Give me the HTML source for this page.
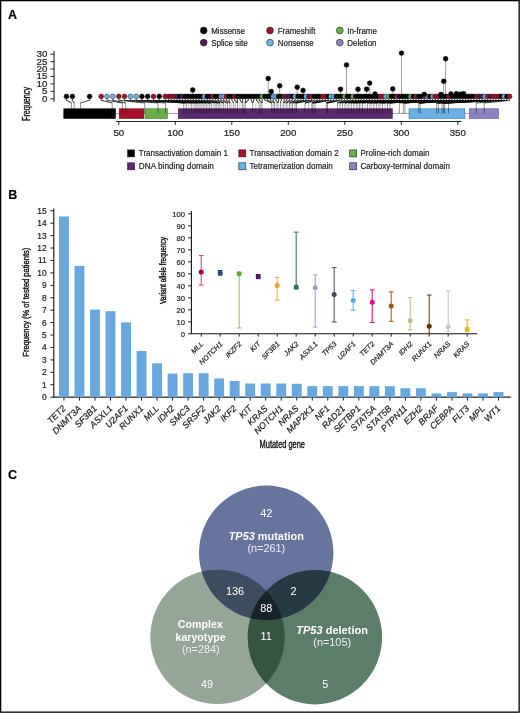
<!DOCTYPE html>
<html><head><meta charset="utf-8"><style>
html,body{margin:0;padding:0;background:#fff;}
svg{display:block;font-family:"Liberation Sans", sans-serif;will-change:transform;}
text{stroke:#222;stroke-width:0.2px;}
text.w{stroke:none;}
text.t{stroke:#111;stroke-width:0.38px;}
</style></head><body>
<svg width="520" height="713" viewBox="0 0 520 713">
<rect width="520" height="713" fill="#fff"/>
<text x="8" y="18.8" font-size="12.5" font-weight="bold">A</text>
<circle cx="203.7" cy="30.5" r="3.4" fill="#000000" stroke="#222" stroke-width="0.6"/>
<text x="211.2" y="33.5" font-size="8.8" fill="#222" textLength="33.79" lengthAdjust="spacingAndGlyphs">Missense</text>
<circle cx="203.7" cy="42.6" r="3.4" fill="#4b1d5e" stroke="#222" stroke-width="0.6"/>
<text x="211.2" y="45.6" font-size="8.8" fill="#222" textLength="36.46" lengthAdjust="spacingAndGlyphs">Splice site</text>
<circle cx="270.0" cy="30.5" r="3.4" fill="#a3102e" stroke="#222" stroke-width="0.6"/>
<text x="277.7" y="33.5" font-size="8.8" fill="#222" textLength="37.78" lengthAdjust="spacingAndGlyphs">Frameshift</text>
<circle cx="270.0" cy="42.6" r="3.4" fill="#6db3e6" stroke="#222" stroke-width="0.6"/>
<text x="277.7" y="45.6" font-size="8.8" fill="#222" textLength="36.02" lengthAdjust="spacingAndGlyphs">Nonsense</text>
<circle cx="339.8" cy="30.5" r="3.4" fill="#68b04a" stroke="#222" stroke-width="0.6"/>
<text x="347.2" y="33.5" font-size="8.8" fill="#222" textLength="29.78" lengthAdjust="spacingAndGlyphs">In-frame</text>
<circle cx="339.8" cy="42.6" r="3.4" fill="#8b86c6" stroke="#222" stroke-width="0.6"/>
<text x="347.2" y="45.6" font-size="8.8" fill="#222" textLength="29.35" lengthAdjust="spacingAndGlyphs">Deletion</text>
<line x1="54.0" y1="51" x2="54.0" y2="101.8" stroke="#333" stroke-width="1.2"/>
<line x1="50.3" y1="54.2" x2="54.0" y2="54.2" stroke="#333" stroke-width="1"/>
<text x="47.3" y="57.2" font-size="8.4" text-anchor="end" fill="#222" textLength="10.8" lengthAdjust="spacingAndGlyphs">30</text>
<line x1="50.3" y1="61.63" x2="54.0" y2="61.63" stroke="#333" stroke-width="1"/>
<text x="47.3" y="64.63" font-size="8.4" text-anchor="end" fill="#222" textLength="10.8" lengthAdjust="spacingAndGlyphs">25</text>
<line x1="50.3" y1="69.06" x2="54.0" y2="69.06" stroke="#333" stroke-width="1"/>
<text x="47.3" y="72.06" font-size="8.4" text-anchor="end" fill="#222" textLength="10.8" lengthAdjust="spacingAndGlyphs">20</text>
<line x1="50.3" y1="76.49" x2="54.0" y2="76.49" stroke="#333" stroke-width="1"/>
<text x="47.3" y="79.49" font-size="8.4" text-anchor="end" fill="#222" textLength="10.8" lengthAdjust="spacingAndGlyphs">15</text>
<line x1="50.3" y1="83.92" x2="54.0" y2="83.92" stroke="#333" stroke-width="1"/>
<text x="47.3" y="86.92" font-size="8.4" text-anchor="end" fill="#222" textLength="10.8" lengthAdjust="spacingAndGlyphs">10</text>
<line x1="50.3" y1="91.35" x2="54.0" y2="91.35" stroke="#333" stroke-width="1"/>
<text x="47.3" y="94.35" font-size="8.4" text-anchor="end" fill="#222" textLength="5.4" lengthAdjust="spacingAndGlyphs">5</text>
<line x1="50.3" y1="98.78" x2="54.0" y2="98.78" stroke="#333" stroke-width="1"/>
<text x="47.3" y="101.78" font-size="8.4" text-anchor="end" fill="#222" textLength="5.4" lengthAdjust="spacingAndGlyphs">0</text>
<text transform="translate(29.9,104) rotate(-90)" font-size="10.2" text-anchor="middle" fill="#111" class="t" textLength="34" lengthAdjust="spacingAndGlyphs">Frequency</text>
<line x1="63.5" y1="113.4" x2="498.8" y2="113.4" stroke="#777" stroke-width="0.7"/>
<rect x="63.8" y="108.8" width="51.6" height="9.7" fill="#000000" stroke="#000" stroke-width="0.6"/>
<rect x="119.2" y="108.8" width="24.7" height="9.7" fill="#a8102e" stroke="#6a0a1c" stroke-width="0.6"/>
<rect x="145.1" y="108.8" width="22.3" height="9.7" fill="#6ab04a" stroke="#3f7a2a" stroke-width="0.6"/>
<rect x="178.3" y="108.8" width="214" height="9.7" fill="#5b2a6e" stroke="#3a1448" stroke-width="0.6"/>
<rect x="409" y="108.8" width="55.8" height="9.7" fill="#6ab0e4" stroke="#3a78a8" stroke-width="0.6"/>
<rect x="469.5" y="108.8" width="29" height="9.7" fill="#8b82c0" stroke="#5a5290" stroke-width="0.6"/>
<line x1="116" y1="121.5" x2="461.5" y2="121.5" stroke="#222" stroke-width="1"/>
<line x1="118.8" y1="121.5" x2="118.8" y2="124.8" stroke="#222" stroke-width="1"/>
<text x="118.8" y="136" font-size="8.4" text-anchor="middle" fill="#222" textLength="10.8" lengthAdjust="spacingAndGlyphs">50</text>
<line x1="175.3" y1="121.5" x2="175.3" y2="124.8" stroke="#222" stroke-width="1"/>
<text x="175.3" y="136" font-size="8.4" text-anchor="middle" fill="#222" textLength="16.2" lengthAdjust="spacingAndGlyphs">100</text>
<line x1="231.8" y1="121.5" x2="231.8" y2="124.8" stroke="#222" stroke-width="1"/>
<text x="231.8" y="136" font-size="8.4" text-anchor="middle" fill="#222" textLength="16.2" lengthAdjust="spacingAndGlyphs">150</text>
<line x1="288.3" y1="121.5" x2="288.3" y2="124.8" stroke="#222" stroke-width="1"/>
<text x="288.3" y="136" font-size="8.4" text-anchor="middle" fill="#222" textLength="16.2" lengthAdjust="spacingAndGlyphs">200</text>
<line x1="344.8" y1="121.5" x2="344.8" y2="124.8" stroke="#222" stroke-width="1"/>
<text x="344.8" y="136" font-size="8.4" text-anchor="middle" fill="#222" textLength="16.2" lengthAdjust="spacingAndGlyphs">250</text>
<line x1="401.3" y1="121.5" x2="401.3" y2="124.8" stroke="#222" stroke-width="1"/>
<text x="401.3" y="136" font-size="8.4" text-anchor="middle" fill="#222" textLength="16.2" lengthAdjust="spacingAndGlyphs">300</text>
<line x1="457.8" y1="121.5" x2="457.8" y2="124.8" stroke="#222" stroke-width="1"/>
<text x="457.8" y="136" font-size="8.4" text-anchor="middle" fill="#222" textLength="16.2" lengthAdjust="spacingAndGlyphs">350</text>
<rect x="127.6" y="149.9" width="7" height="7" fill="#000" stroke="#222" stroke-width="0.6"/>
<text x="138.8" y="156.4" font-size="8.8" fill="#222" textLength="89.08" lengthAdjust="spacingAndGlyphs">Transactivation domain 1</text>
<rect x="238.8" y="149.9" width="7" height="7" fill="#a8102e" stroke="#222" stroke-width="0.6"/>
<text x="249.6" y="156.4" font-size="8.8" fill="#222" textLength="89.08" lengthAdjust="spacingAndGlyphs">Transactivation domain 2</text>
<rect x="349.7" y="149.9" width="7" height="7" fill="#6ab04a" stroke="#222" stroke-width="0.6"/>
<text x="360.5" y="156.4" font-size="8.8" fill="#222" textLength="68.91" lengthAdjust="spacingAndGlyphs">Proline-rich domain</text>
<rect x="127.6" y="162.8" width="7" height="7" fill="#5b2a6e" stroke="#222" stroke-width="0.6"/>
<text x="138.8" y="169.3" font-size="8.8" fill="#222" textLength="75" lengthAdjust="spacingAndGlyphs">DNA binding domain</text>
<rect x="238.8" y="162.8" width="7" height="7" fill="#6ab0e4" stroke="#222" stroke-width="0.6"/>
<text x="249.6" y="169.3" font-size="8.8" fill="#222" textLength="83.14" lengthAdjust="spacingAndGlyphs">Tetramerization domain</text>
<rect x="349.7" y="162.8" width="7" height="7" fill="#8b82c0" stroke="#222" stroke-width="0.6"/>
<text x="360.5" y="169.3" font-size="8.8" fill="#222" textLength="89.36" lengthAdjust="spacingAndGlyphs">Carboxy-terminal domain</text>
<path d="M66.4 98.60000000000001V100.2L71.5 103.0" fill="none" stroke="#000" stroke-opacity="0.7" stroke-width="1.1"/>
<path d="M72.4 98.60000000000001V100.2L74.2 103.0" fill="none" stroke="#000" stroke-opacity="0.7" stroke-width="1.1"/>
<path d="M89.6 98.60000000000001V100.2L80.5 103.0" fill="none" stroke="#000" stroke-opacity="0.7" stroke-width="1.1"/>
<path d="M101.2 98.60000000000001V100.2L112.2 103.0" fill="none" stroke="#000" stroke-opacity="0.7" stroke-width="1.1"/>
<path d="M107 98.60000000000001V100.2L122.4 103.0" fill="none" stroke="#000" stroke-opacity="0.7" stroke-width="1.1"/>
<path d="M112.8 98.60000000000001V100.2L125.8 103.0" fill="none" stroke="#000" stroke-opacity="0.7" stroke-width="1.1"/>
<path d="M118.8 98.60000000000001V100.2L144.7 103.0" fill="none" stroke="#000" stroke-opacity="0.7" stroke-width="1.1"/>
<path d="M124.5 98.60000000000001V100.2L158 103.0" fill="none" stroke="#000" stroke-opacity="0.7" stroke-width="1.1"/>
<path d="M130.4 98.60000000000001V100.2L165.5 103.0" fill="none" stroke="#000" stroke-opacity="0.7" stroke-width="1.1"/>
<path d="M136.2 98.60000000000001V100.2L183.75 103.0" fill="none" stroke="#000" stroke-opacity="0.7" stroke-width="1.1"/>
<path d="M141.9 98.60000000000001V100.2L186.25 103.0" fill="none" stroke="#000" stroke-opacity="0.7" stroke-width="1.1"/>
<path d="M147.6 98.60000000000001V100.2L186.25 103.0" fill="none" stroke="#000" stroke-opacity="0.7" stroke-width="1.1"/>
<path d="M153.5 98.60000000000001V100.2L191.25 103.0" fill="none" stroke="#000" stroke-opacity="0.7" stroke-width="1.1"/>
<path d="M159.3 98.60000000000001V100.2L191.25 103.0" fill="none" stroke="#000" stroke-opacity="0.7" stroke-width="1.1"/>
<path d="M165.2 98.60000000000001V100.2L195 103.0" fill="none" stroke="#000" stroke-opacity="0.7" stroke-width="1.1"/>
<path d="M168.6 98.60000000000001V100.2L195 103.0" fill="none" stroke="#000" stroke-opacity="0.7" stroke-width="1.1"/>
<path d="M171.35 98.60000000000001V100.2L198.1 103.0" fill="none" stroke="#000" stroke-opacity="0.7" stroke-width="1.1"/>
<path d="M174.1 98.60000000000001V100.2L198.1 103.0" fill="none" stroke="#000" stroke-opacity="0.7" stroke-width="1.1"/>
<path d="M176.85 98.60000000000001V100.2L200 103.0" fill="none" stroke="#000" stroke-opacity="0.7" stroke-width="1.1"/>
<path d="M179.6 98.60000000000001V100.2L203.1 103.0" fill="none" stroke="#000" stroke-opacity="0.7" stroke-width="1.1"/>
<path d="M182.35 98.60000000000001V100.2L203.1 103.0" fill="none" stroke="#000" stroke-opacity="0.7" stroke-width="1.1"/>
<path d="M185.1 98.60000000000001V100.2L206.25 103.0" fill="none" stroke="#000" stroke-opacity="0.7" stroke-width="1.1"/>
<path d="M187.85 98.60000000000001V100.2L206.25 103.0" fill="none" stroke="#000" stroke-opacity="0.7" stroke-width="1.1"/>
<path d="M190.6 98.60000000000001V100.2L209.4 103.0" fill="none" stroke="#000" stroke-opacity="0.7" stroke-width="1.1"/>
<path d="M193.35 98.60000000000001V100.2L209.4 103.0" fill="none" stroke="#000" stroke-opacity="0.7" stroke-width="1.1"/>
<path d="M196.1 98.60000000000001V100.2L211.25 103.0" fill="none" stroke="#000" stroke-opacity="0.7" stroke-width="1.1"/>
<path d="M198.85 98.60000000000001V100.2L211.25 103.0" fill="none" stroke="#000" stroke-opacity="0.7" stroke-width="1.1"/>
<path d="M201.6 98.60000000000001V100.2L215 103.0" fill="none" stroke="#000" stroke-opacity="0.7" stroke-width="1.1"/>
<path d="M204.35 98.60000000000001V100.2L218.1 103.0" fill="none" stroke="#000" stroke-opacity="0.7" stroke-width="1.1"/>
<path d="M207.1 98.60000000000001V100.2L218.1 103.0" fill="none" stroke="#000" stroke-opacity="0.7" stroke-width="1.1"/>
<path d="M209.85 98.60000000000001V100.2L220 103.0" fill="none" stroke="#000" stroke-opacity="0.7" stroke-width="1.1"/>
<path d="M212.6 98.60000000000001V100.2L220 103.0" fill="none" stroke="#000" stroke-opacity="0.7" stroke-width="1.1"/>
<path d="M215.35 98.60000000000001V100.2L223.75 103.0" fill="none" stroke="#000" stroke-opacity="0.7" stroke-width="1.1"/>
<path d="M218.1 98.60000000000001V100.2L223.75 103.0" fill="none" stroke="#000" stroke-opacity="0.7" stroke-width="1.1"/>
<path d="M220.85 98.60000000000001V100.2L227.5 103.0" fill="none" stroke="#000" stroke-opacity="0.7" stroke-width="1.1"/>
<path d="M223.6 98.60000000000001V100.2L227.5 103.0" fill="none" stroke="#000" stroke-opacity="0.7" stroke-width="1.1"/>
<path d="M226.35 98.60000000000001V100.2L230 103.0" fill="none" stroke="#000" stroke-opacity="0.7" stroke-width="1.1"/>
<path d="M229.1 98.60000000000001V100.2L230 103.0" fill="none" stroke="#000" stroke-opacity="0.7" stroke-width="1.1"/>
<path d="M231.85 98.60000000000001V100.2L233.75 103.0" fill="none" stroke="#000" stroke-opacity="0.7" stroke-width="1.1"/>
<path d="M234.6 98.60000000000001V100.2L237.5 103.0" fill="none" stroke="#000" stroke-opacity="0.7" stroke-width="1.1"/>
<path d="M237.35 98.60000000000001V100.2L237.5 103.0" fill="none" stroke="#000" stroke-opacity="0.7" stroke-width="1.1"/>
<path d="M240.1 98.60000000000001V100.2L242.3 103.0" fill="none" stroke="#000" stroke-opacity="0.7" stroke-width="1.1"/>
<path d="M242.85 98.60000000000001V100.2L242.3 103.0" fill="none" stroke="#000" stroke-opacity="0.7" stroke-width="1.1"/>
<path d="M245.6 98.60000000000001V100.2L245.2 103.0" fill="none" stroke="#000" stroke-opacity="0.7" stroke-width="1.1"/>
<path d="M248.35 98.60000000000001V100.2L245.2 103.0" fill="none" stroke="#000" stroke-opacity="0.7" stroke-width="1.1"/>
<path d="M251.1 98.60000000000001V100.2L252.7 103.0" fill="none" stroke="#000" stroke-opacity="0.7" stroke-width="1.1"/>
<path d="M253.85 98.60000000000001V100.2L252.7 103.0" fill="none" stroke="#000" stroke-opacity="0.7" stroke-width="1.1"/>
<path d="M256.6 98.60000000000001V100.2L259 103.0" fill="none" stroke="#000" stroke-opacity="0.7" stroke-width="1.1"/>
<path d="M259.35 98.60000000000001V100.2L261.9 103.0" fill="none" stroke="#000" stroke-opacity="0.7" stroke-width="1.1"/>
<path d="M262.1 98.60000000000001V100.2L261.9 103.0" fill="none" stroke="#000" stroke-opacity="0.7" stroke-width="1.1"/>
<path d="M264.85 98.60000000000001V100.2L271.7 103.0" fill="none" stroke="#000" stroke-opacity="0.7" stroke-width="1.1"/>
<path d="M267.6 98.60000000000001V100.2L271.7 103.0" fill="none" stroke="#000" stroke-opacity="0.7" stroke-width="1.1"/>
<path d="M270.35 98.60000000000001V100.2L274.6 103.0" fill="none" stroke="#000" stroke-opacity="0.7" stroke-width="1.1"/>
<path d="M273.1 98.60000000000001V100.2L274.6 103.0" fill="none" stroke="#000" stroke-opacity="0.7" stroke-width="1.1"/>
<path d="M275.85 98.60000000000001V100.2L278 103.0" fill="none" stroke="#000" stroke-opacity="0.7" stroke-width="1.1"/>
<path d="M278.6 98.60000000000001V100.2L278 103.0" fill="none" stroke="#000" stroke-opacity="0.7" stroke-width="1.1"/>
<path d="M281.35 98.60000000000001V100.2L280.4 103.0" fill="none" stroke="#000" stroke-opacity="0.7" stroke-width="1.1"/>
<path d="M284.1 98.60000000000001V100.2L283.8 103.0" fill="none" stroke="#000" stroke-opacity="0.7" stroke-width="1.1"/>
<path d="M286.85 98.60000000000001V100.2L283.8 103.0" fill="none" stroke="#000" stroke-opacity="0.7" stroke-width="1.1"/>
<path d="M289.6 98.60000000000001V100.2L286.1 103.0" fill="none" stroke="#000" stroke-opacity="0.7" stroke-width="1.1"/>
<path d="M292.35 98.60000000000001V100.2L286.1 103.0" fill="none" stroke="#000" stroke-opacity="0.7" stroke-width="1.1"/>
<path d="M295.1 98.60000000000001V100.2L289.6 103.0" fill="none" stroke="#000" stroke-opacity="0.7" stroke-width="1.1"/>
<path d="M297.85 98.60000000000001V100.2L289.6 103.0" fill="none" stroke="#000" stroke-opacity="0.7" stroke-width="1.1"/>
<path d="M300.6 98.60000000000001V100.2L292.5 103.0" fill="none" stroke="#000" stroke-opacity="0.7" stroke-width="1.1"/>
<path d="M303.35 98.60000000000001V100.2L292.5 103.0" fill="none" stroke="#000" stroke-opacity="0.7" stroke-width="1.1"/>
<path d="M306.1 98.60000000000001V100.2L295 103.0" fill="none" stroke="#000" stroke-opacity="0.7" stroke-width="1.1"/>
<path d="M308.85 98.60000000000001V100.2L296.5 103.0" fill="none" stroke="#000" stroke-opacity="0.7" stroke-width="1.1"/>
<path d="M311.6 98.60000000000001V100.2L296.5 103.0" fill="none" stroke="#000" stroke-opacity="0.7" stroke-width="1.1"/>
<path d="M314.35 98.60000000000001V100.2L305 103.0" fill="none" stroke="#000" stroke-opacity="0.7" stroke-width="1.1"/>
<path d="M317.1 98.60000000000001V100.2L305 103.0" fill="none" stroke="#000" stroke-opacity="0.7" stroke-width="1.1"/>
<path d="M319.85 98.60000000000001V100.2L311.9 103.0" fill="none" stroke="#000" stroke-opacity="0.7" stroke-width="1.1"/>
<path d="M322.6 98.60000000000001V100.2L311.9 103.0" fill="none" stroke="#000" stroke-opacity="0.7" stroke-width="1.1"/>
<path d="M325.35 98.60000000000001V100.2L313 103.0" fill="none" stroke="#000" stroke-opacity="0.7" stroke-width="1.1"/>
<path d="M328.1 98.60000000000001V100.2L313 103.0" fill="none" stroke="#000" stroke-opacity="0.7" stroke-width="1.1"/>
<path d="M330.85 98.60000000000001V100.2L315 103.0" fill="none" stroke="#000" stroke-opacity="0.7" stroke-width="1.1"/>
<path d="M333.6 98.60000000000001V100.2L326.3 103.0" fill="none" stroke="#000" stroke-opacity="0.7" stroke-width="1.1"/>
<path d="M336.35 98.60000000000001V100.2L326.3 103.0" fill="none" stroke="#000" stroke-opacity="0.7" stroke-width="1.1"/>
<path d="M339.1 98.60000000000001V100.2L327.5 103.0" fill="none" stroke="#000" stroke-opacity="0.7" stroke-width="1.1"/>
<path d="M341.85 98.60000000000001V100.2L327.5 103.0" fill="none" stroke="#000" stroke-opacity="0.7" stroke-width="1.1"/>
<path d="M344.6 98.60000000000001V100.2L337.5 103.0" fill="none" stroke="#000" stroke-opacity="0.7" stroke-width="1.1"/>
<path d="M347.35 98.60000000000001V100.2L337.5 103.0" fill="none" stroke="#000" stroke-opacity="0.7" stroke-width="1.1"/>
<path d="M350.1 98.60000000000001V100.2L340 103.0" fill="none" stroke="#000" stroke-opacity="0.7" stroke-width="1.1"/>
<path d="M352.85 98.60000000000001V100.2L340 103.0" fill="none" stroke="#000" stroke-opacity="0.7" stroke-width="1.1"/>
<path d="M355.6 98.60000000000001V100.2L342.5 103.0" fill="none" stroke="#000" stroke-opacity="0.7" stroke-width="1.1"/>
<path d="M358.35 98.60000000000001V100.2L345 103.0" fill="none" stroke="#000" stroke-opacity="0.7" stroke-width="1.1"/>
<path d="M361.1 98.60000000000001V100.2L345 103.0" fill="none" stroke="#000" stroke-opacity="0.7" stroke-width="1.1"/>
<path d="M363.85 98.60000000000001V100.2L348.8 103.0" fill="none" stroke="#000" stroke-opacity="0.7" stroke-width="1.1"/>
<path d="M366.6 98.60000000000001V100.2L348.8 103.0" fill="none" stroke="#000" stroke-opacity="0.7" stroke-width="1.1"/>
<path d="M369.35 98.60000000000001V100.2L351.3 103.0" fill="none" stroke="#000" stroke-opacity="0.7" stroke-width="1.1"/>
<path d="M372.1 98.60000000000001V100.2L351.3 103.0" fill="none" stroke="#000" stroke-opacity="0.7" stroke-width="1.1"/>
<path d="M374.85 98.60000000000001V100.2L353.8 103.0" fill="none" stroke="#000" stroke-opacity="0.7" stroke-width="1.1"/>
<path d="M377.6 98.60000000000001V100.2L353.8 103.0" fill="none" stroke="#000" stroke-opacity="0.7" stroke-width="1.1"/>
<path d="M380.35 98.60000000000001V100.2L356.3 103.0" fill="none" stroke="#000" stroke-opacity="0.7" stroke-width="1.1"/>
<path d="M383.1 98.60000000000001V100.2L356.3 103.0" fill="none" stroke="#000" stroke-opacity="0.7" stroke-width="1.1"/>
<path d="M385.85 98.60000000000001V100.2L359.4 103.0" fill="none" stroke="#000" stroke-opacity="0.7" stroke-width="1.1"/>
<path d="M388.6 98.60000000000001V100.2L362.5 103.0" fill="none" stroke="#000" stroke-opacity="0.7" stroke-width="1.1"/>
<path d="M391.35 98.60000000000001V100.2L362.5 103.0" fill="none" stroke="#000" stroke-opacity="0.7" stroke-width="1.1"/>
<path d="M394.1 98.60000000000001V100.2L367.5 103.0" fill="none" stroke="#000" stroke-opacity="0.7" stroke-width="1.1"/>
<path d="M396.85 98.60000000000001V100.2L367.5 103.0" fill="none" stroke="#000" stroke-opacity="0.7" stroke-width="1.1"/>
<path d="M399.6 98.60000000000001V100.2L370 103.0" fill="none" stroke="#000" stroke-opacity="0.7" stroke-width="1.1"/>
<path d="M402.35 98.60000000000001V100.2L370 103.0" fill="none" stroke="#000" stroke-opacity="0.7" stroke-width="1.1"/>
<path d="M405.1 98.60000000000001V100.2L373.8 103.0" fill="none" stroke="#000" stroke-opacity="0.7" stroke-width="1.1"/>
<path d="M407.85 98.60000000000001V100.2L373.8 103.0" fill="none" stroke="#000" stroke-opacity="0.7" stroke-width="1.1"/>
<path d="M410.6 98.60000000000001V100.2L376.3 103.0" fill="none" stroke="#000" stroke-opacity="0.7" stroke-width="1.1"/>
<path d="M413.35 98.60000000000001V100.2L380 103.0" fill="none" stroke="#000" stroke-opacity="0.7" stroke-width="1.1"/>
<path d="M416.1 98.60000000000001V100.2L380 103.0" fill="none" stroke="#000" stroke-opacity="0.7" stroke-width="1.1"/>
<path d="M418.85 98.60000000000001V100.2L382.5 103.0" fill="none" stroke="#000" stroke-opacity="0.7" stroke-width="1.1"/>
<path d="M421.6 98.60000000000001V100.2L382.5 103.0" fill="none" stroke="#000" stroke-opacity="0.7" stroke-width="1.1"/>
<path d="M424.35 98.60000000000001V100.2L387.5 103.0" fill="none" stroke="#000" stroke-opacity="0.7" stroke-width="1.1"/>
<path d="M427.1 98.60000000000001V100.2L387.5 103.0" fill="none" stroke="#000" stroke-opacity="0.7" stroke-width="1.1"/>
<path d="M429.85 98.60000000000001V100.2L390 103.0" fill="none" stroke="#000" stroke-opacity="0.7" stroke-width="1.1"/>
<path d="M432.6 98.60000000000001V100.2L390 103.0" fill="none" stroke="#000" stroke-opacity="0.7" stroke-width="1.1"/>
<path d="M435.35 98.60000000000001V100.2L399.4 103.0" fill="none" stroke="#000" stroke-opacity="0.7" stroke-width="1.1"/>
<path d="M438.1 98.60000000000001V100.2L403.3 103.0" fill="none" stroke="#000" stroke-opacity="0.7" stroke-width="1.1"/>
<path d="M440.85 98.60000000000001V100.2L403.3 103.0" fill="none" stroke="#000" stroke-opacity="0.7" stroke-width="1.1"/>
<path d="M443.6 98.60000000000001V100.2L404.9 103.0" fill="none" stroke="#000" stroke-opacity="0.7" stroke-width="1.1"/>
<path d="M446.35 98.60000000000001V100.2L404.9 103.0" fill="none" stroke="#000" stroke-opacity="0.7" stroke-width="1.1"/>
<path d="M449.1 98.60000000000001V100.2L418.8 103.0" fill="none" stroke="#000" stroke-opacity="0.7" stroke-width="1.1"/>
<path d="M451.85 98.60000000000001V100.2L418.8 103.0" fill="none" stroke="#000" stroke-opacity="0.7" stroke-width="1.1"/>
<path d="M454.6 98.60000000000001V100.2L418.8 103.0" fill="none" stroke="#000" stroke-opacity="0.7" stroke-width="1.1"/>
<path d="M457.35 98.60000000000001V100.2L420.2 103.0" fill="none" stroke="#000" stroke-opacity="0.7" stroke-width="1.1"/>
<path d="M460.1 98.60000000000001V100.2L420.2 103.0" fill="none" stroke="#000" stroke-opacity="0.7" stroke-width="1.1"/>
<path d="M462.85 98.60000000000001V100.2L420.2 103.0" fill="none" stroke="#000" stroke-opacity="0.7" stroke-width="1.1"/>
<path d="M465.6 98.60000000000001V100.2L436.6 103.0" fill="none" stroke="#000" stroke-opacity="0.7" stroke-width="1.1"/>
<path d="M468.35 98.60000000000001V100.2L436.6 103.0" fill="none" stroke="#000" stroke-opacity="0.7" stroke-width="1.1"/>
<path d="M471.1 98.60000000000001V100.2L436.6 103.0" fill="none" stroke="#000" stroke-opacity="0.7" stroke-width="1.1"/>
<path d="M473.85 98.60000000000001V100.2L438.5 103.0" fill="none" stroke="#000" stroke-opacity="0.7" stroke-width="1.1"/>
<path d="M476.6 98.60000000000001V100.2L438.5 103.0" fill="none" stroke="#000" stroke-opacity="0.7" stroke-width="1.1"/>
<path d="M479.35 98.60000000000001V100.2L442 103.0" fill="none" stroke="#000" stroke-opacity="0.7" stroke-width="1.1"/>
<path d="M482.1 98.60000000000001V100.2L442 103.0" fill="none" stroke="#000" stroke-opacity="0.7" stroke-width="1.1"/>
<path d="M484.85 98.60000000000001V100.2L442 103.0" fill="none" stroke="#000" stroke-opacity="0.7" stroke-width="1.1"/>
<path d="M487.6 98.60000000000001V100.2L443.5 103.0" fill="none" stroke="#000" stroke-opacity="0.7" stroke-width="1.1"/>
<path d="M490.35 98.60000000000001V100.2L443.5 103.0" fill="none" stroke="#000" stroke-opacity="0.7" stroke-width="1.1"/>
<path d="M493.1 98.60000000000001V100.2L444.6 103.0" fill="none" stroke="#000" stroke-opacity="0.7" stroke-width="1.1"/>
<path d="M495.85 98.60000000000001V100.2L444.6 103.0" fill="none" stroke="#000" stroke-opacity="0.7" stroke-width="1.1"/>
<path d="M498.6 98.60000000000001V100.2L444.6 103.0" fill="none" stroke="#000" stroke-opacity="0.7" stroke-width="1.1"/>
<path d="M501.35 98.60000000000001V100.2L448.5 103.0" fill="none" stroke="#000" stroke-opacity="0.7" stroke-width="1.1"/>
<path d="M504.1 98.60000000000001V100.2L448.5 103.0" fill="none" stroke="#000" stroke-opacity="0.7" stroke-width="1.1"/>
<path d="M506.85 98.60000000000001V100.2L476.2 103.0" fill="none" stroke="#000" stroke-opacity="0.7" stroke-width="1.1"/>
<path d="M509.6 98.60000000000001V100.2L484.2 103.0" fill="none" stroke="#000" stroke-opacity="0.7" stroke-width="1.1"/>
<path d="M112.2 102.8V113.4 M122.4 102.8V113.4 M125.8 102.8V113.4 M144.7 102.8V113.4 M158 102.8V113.4 M165.5 102.8V113.4 M183.75 102.8V113.4 M186.25 102.8V113.4 M191.25 102.8V113.4 M195 102.8V113.4 M198.1 102.8V113.4 M200 102.8V113.4 M203.1 102.8V113.4 M206.25 102.8V113.4 M209.4 102.8V113.4 M211.25 102.8V113.4 M215 102.8V113.4 M218.1 102.8V113.4 M220 102.8V113.4 M223.75 102.8V113.4 M227.5 102.8V113.4 M230 102.8V113.4 M233.75 102.8V113.4 M237.5 102.8V113.4 M242.3 102.8V113.4 M245.2 102.8V113.4 M252.7 102.8V113.4 M259 102.8V113.4 M261.9 102.8V113.4 M271.7 102.8V113.4 M274.6 102.8V113.4 M278 102.8V113.4 M280.4 102.8V113.4 M283.8 102.8V113.4 M286.1 102.8V113.4 M289.6 102.8V113.4 M292.5 102.8V113.4 M295 102.8V113.4 M296.5 102.8V113.4 M305 102.8V113.4 M311.9 102.8V113.4 M313 102.8V113.4 M315 102.8V113.4 M326.3 102.8V113.4 M327.5 102.8V113.4 M337.5 102.8V113.4 M340 102.8V113.4 M342.5 102.8V113.4 M345 102.8V113.4 M348.8 102.8V113.4 M351.3 102.8V113.4 M353.8 102.8V113.4 M356.3 102.8V113.4 M359.4 102.8V113.4 M362.5 102.8V113.4 M367.5 102.8V113.4 M370 102.8V113.4 M373.8 102.8V113.4 M376.3 102.8V113.4 M380 102.8V113.4 M382.5 102.8V113.4 M387.5 102.8V113.4 M390 102.8V113.4 M399.4 102.8V113.4 M403.3 102.8V113.4 M404.9 102.8V113.4 M418.8 102.8V113.4 M420.2 102.8V113.4 M436.6 102.8V113.4 M438.5 102.8V113.4 M442 102.8V113.4 M443.5 102.8V113.4 M444.6 102.8V113.4 M448.5 102.8V113.4 M476.2 102.8V113.4 M484.2 102.8V113.4 M71.5 102.8V113.4 M74.2 102.8V113.4 M80.5 102.8V113.4" fill="none" stroke="#000" stroke-opacity="0.45" stroke-width="0.9"/>
<path d="M188.75 102.6V113.4 M193.12 102.6V113.4 M196.55 102.6V113.4 M201.55 102.6V113.4 M204.68 102.6V113.4 M207.82 102.6V113.4 M213.12 102.6V113.4 M216.55 102.6V113.4 M221.88 102.6V113.4 M225.62 102.6V113.4 M231.88 102.6V113.4 M235.62 102.6V113.4 M239.9 102.6V113.4 M243.75 102.6V113.4 M255.85 102.6V113.4 M260.45 102.6V113.4 M273.15 102.6V113.4 M276.3 102.6V113.4 M282.1 102.6V113.4 M287.85 102.6V113.4 M291.05 102.6V113.4 M308.45 102.6V113.4 M346.9 102.6V113.4 M357.85 102.6V113.4 M360.95 102.6V113.4 M365 102.6V113.4 M371.9 102.6V113.4 M378.15 102.6V113.4 M385 102.6V113.4" fill="none" stroke="#000" stroke-opacity="0.28" stroke-width="0.9"/>
<path d="M192.7 90L192.7 96.4 M268.2 78.5L268.2 96.4 M271.2 91.5L271.2 96.4 M279.7 85.8L279.7 96.4 M297.2 87.2L297.2 96.4 M303.1 90.4L303.1 96.4 M340.5 89.2L340.5 96.4 M346.5 64.9L346.5 96.4 M358 89.2L358 96.4 M366.6 89.2L366.6 96.4 M369.7 83.1L369.7 96.4 M392.8 88.9L392.8 96.4 M401.5 53.1L401.5 96.4 M443.7 81.3L443.7 96.4 M445.6 58.8L445.6 96.4" stroke="#888" stroke-width="0.8" fill="none"/>
<circle cx="66.4" cy="96.4" r="2.45" fill="#000000" stroke="#111" stroke-width="0.45"/>
<circle cx="72.4" cy="96.4" r="2.45" fill="#000000" stroke="#111" stroke-width="0.45"/>
<circle cx="89.6" cy="96.4" r="2.45" fill="#000000" stroke="#111" stroke-width="0.45"/>
<circle cx="101.2" cy="96.4" r="2.45" fill="#a3102e" stroke="#111" stroke-width="0.45"/>
<circle cx="107" cy="96.4" r="2.45" fill="#6db3e6" stroke="#111" stroke-width="0.45"/>
<circle cx="112.8" cy="96.4" r="2.45" fill="#6db3e6" stroke="#111" stroke-width="0.45"/>
<circle cx="118.8" cy="96.4" r="2.45" fill="#a3102e" stroke="#111" stroke-width="0.45"/>
<circle cx="124.5" cy="96.4" r="2.45" fill="#a3102e" stroke="#111" stroke-width="0.45"/>
<circle cx="130.4" cy="96.4" r="2.45" fill="#6db3e6" stroke="#111" stroke-width="0.45"/>
<circle cx="136.2" cy="96.4" r="2.45" fill="#6db3e6" stroke="#111" stroke-width="0.45"/>
<circle cx="141.9" cy="96.4" r="2.45" fill="#000000" stroke="#111" stroke-width="0.45"/>
<circle cx="147.6" cy="96.4" r="2.45" fill="#000000" stroke="#111" stroke-width="0.45"/>
<circle cx="153.5" cy="96.4" r="2.45" fill="#a3102e" stroke="#111" stroke-width="0.45"/>
<circle cx="159.3" cy="96.4" r="2.45" fill="#000000" stroke="#111" stroke-width="0.45"/>
<circle cx="165.2" cy="96.4" r="2.45" fill="#a3102e" stroke="#111" stroke-width="0.45"/>
<circle cx="168.6" cy="96.4" r="2.45" fill="#a3102e" stroke="#111" stroke-width="0.45"/>
<circle cx="171.35" cy="96.4" r="2.45" fill="#a3102e" stroke="#111" stroke-width="0.45"/>
<circle cx="174.1" cy="96.4" r="2.45" fill="#a3102e" stroke="#111" stroke-width="0.45"/>
<circle cx="176.85" cy="96.4" r="2.45" fill="#4b1d5e" stroke="#111" stroke-width="0.45"/>
<circle cx="179.6" cy="96.4" r="2.45" fill="#000000" stroke="#111" stroke-width="0.45"/>
<circle cx="182.35" cy="96.4" r="2.45" fill="#4b1d5e" stroke="#111" stroke-width="0.45"/>
<circle cx="185.1" cy="96.4" r="2.45" fill="#000000" stroke="#111" stroke-width="0.45"/>
<circle cx="187.85" cy="96.4" r="2.45" fill="#000000" stroke="#111" stroke-width="0.45"/>
<circle cx="190.6" cy="96.4" r="2.45" fill="#000000" stroke="#111" stroke-width="0.45"/>
<circle cx="193.35" cy="96.4" r="2.45" fill="#000000" stroke="#111" stroke-width="0.45"/>
<circle cx="196.1" cy="96.4" r="2.45" fill="#000000" stroke="#111" stroke-width="0.45"/>
<circle cx="198.85" cy="96.4" r="2.45" fill="#000000" stroke="#111" stroke-width="0.45"/>
<circle cx="201.6" cy="96.4" r="2.45" fill="#000000" stroke="#111" stroke-width="0.45"/>
<circle cx="204.35" cy="96.4" r="2.45" fill="#6db3e6" stroke="#111" stroke-width="0.45"/>
<circle cx="207.1" cy="96.4" r="2.45" fill="#000000" stroke="#111" stroke-width="0.45"/>
<circle cx="209.85" cy="96.4" r="2.45" fill="#000000" stroke="#111" stroke-width="0.45"/>
<circle cx="212.6" cy="96.4" r="2.45" fill="#a3102e" stroke="#111" stroke-width="0.45"/>
<circle cx="215.35" cy="96.4" r="2.45" fill="#000000" stroke="#111" stroke-width="0.45"/>
<circle cx="218.1" cy="96.4" r="2.45" fill="#000000" stroke="#111" stroke-width="0.45"/>
<circle cx="220.85" cy="96.4" r="2.45" fill="#8b86c6" stroke="#111" stroke-width="0.45"/>
<circle cx="223.6" cy="96.4" r="2.45" fill="#6db3e6" stroke="#111" stroke-width="0.45"/>
<circle cx="226.35" cy="96.4" r="2.45" fill="#a3102e" stroke="#111" stroke-width="0.45"/>
<circle cx="229.1" cy="96.4" r="2.45" fill="#000000" stroke="#111" stroke-width="0.45"/>
<circle cx="231.85" cy="96.4" r="2.45" fill="#000000" stroke="#111" stroke-width="0.45"/>
<circle cx="234.6" cy="96.4" r="2.45" fill="#a3102e" stroke="#111" stroke-width="0.45"/>
<circle cx="237.35" cy="96.4" r="2.45" fill="#000000" stroke="#111" stroke-width="0.45"/>
<circle cx="240.1" cy="96.4" r="2.45" fill="#000000" stroke="#111" stroke-width="0.45"/>
<circle cx="242.85" cy="96.4" r="2.45" fill="#000000" stroke="#111" stroke-width="0.45"/>
<circle cx="245.6" cy="96.4" r="2.45" fill="#000000" stroke="#111" stroke-width="0.45"/>
<circle cx="248.35" cy="96.4" r="2.45" fill="#000000" stroke="#111" stroke-width="0.45"/>
<circle cx="251.1" cy="96.4" r="2.45" fill="#000000" stroke="#111" stroke-width="0.45"/>
<circle cx="253.85" cy="96.4" r="2.45" fill="#000000" stroke="#111" stroke-width="0.45"/>
<circle cx="256.6" cy="96.4" r="2.45" fill="#000000" stroke="#111" stroke-width="0.45"/>
<circle cx="259.35" cy="96.4" r="2.45" fill="#000000" stroke="#111" stroke-width="0.45"/>
<circle cx="262.1" cy="96.4" r="2.45" fill="#68b04a" stroke="#111" stroke-width="0.45"/>
<circle cx="264.85" cy="96.4" r="2.45" fill="#000000" stroke="#111" stroke-width="0.45"/>
<circle cx="267.6" cy="96.4" r="2.45" fill="#000000" stroke="#111" stroke-width="0.45"/>
<circle cx="270.35" cy="96.4" r="2.45" fill="#000000" stroke="#111" stroke-width="0.45"/>
<circle cx="273.1" cy="96.4" r="2.45" fill="#6db3e6" stroke="#111" stroke-width="0.45"/>
<circle cx="275.85" cy="96.4" r="2.45" fill="#6db3e6" stroke="#111" stroke-width="0.45"/>
<circle cx="278.6" cy="96.4" r="2.45" fill="#000000" stroke="#111" stroke-width="0.45"/>
<circle cx="281.35" cy="96.4" r="2.45" fill="#000000" stroke="#111" stroke-width="0.45"/>
<circle cx="284.1" cy="96.4" r="2.45" fill="#a3102e" stroke="#111" stroke-width="0.45"/>
<circle cx="286.85" cy="96.4" r="2.45" fill="#4b1d5e" stroke="#111" stroke-width="0.45"/>
<circle cx="289.6" cy="96.4" r="2.45" fill="#4b1d5e" stroke="#111" stroke-width="0.45"/>
<circle cx="292.35" cy="96.4" r="2.45" fill="#000000" stroke="#111" stroke-width="0.45"/>
<circle cx="295.1" cy="96.4" r="2.45" fill="#6db3e6" stroke="#111" stroke-width="0.45"/>
<circle cx="297.85" cy="96.4" r="2.45" fill="#000000" stroke="#111" stroke-width="0.45"/>
<circle cx="300.6" cy="96.4" r="2.45" fill="#000000" stroke="#111" stroke-width="0.45"/>
<circle cx="303.35" cy="96.4" r="2.45" fill="#000000" stroke="#111" stroke-width="0.45"/>
<circle cx="306.1" cy="96.4" r="2.45" fill="#6db3e6" stroke="#111" stroke-width="0.45"/>
<circle cx="308.85" cy="96.4" r="2.45" fill="#4b1d5e" stroke="#111" stroke-width="0.45"/>
<circle cx="311.6" cy="96.4" r="2.45" fill="#a3102e" stroke="#111" stroke-width="0.45"/>
<circle cx="314.35" cy="96.4" r="2.45" fill="#000000" stroke="#111" stroke-width="0.45"/>
<circle cx="317.1" cy="96.4" r="2.45" fill="#000000" stroke="#111" stroke-width="0.45"/>
<circle cx="319.85" cy="96.4" r="2.45" fill="#000000" stroke="#111" stroke-width="0.45"/>
<circle cx="322.6" cy="96.4" r="2.45" fill="#a3102e" stroke="#111" stroke-width="0.45"/>
<circle cx="325.35" cy="96.4" r="2.45" fill="#a3102e" stroke="#111" stroke-width="0.45"/>
<circle cx="328.1" cy="96.4" r="2.45" fill="#000000" stroke="#111" stroke-width="0.45"/>
<circle cx="330.85" cy="96.4" r="2.45" fill="#6db3e6" stroke="#111" stroke-width="0.45"/>
<circle cx="333.6" cy="96.4" r="2.45" fill="#6db3e6" stroke="#111" stroke-width="0.45"/>
<circle cx="336.35" cy="96.4" r="2.45" fill="#000000" stroke="#111" stroke-width="0.45"/>
<circle cx="339.1" cy="96.4" r="2.45" fill="#000000" stroke="#111" stroke-width="0.45"/>
<circle cx="341.85" cy="96.4" r="2.45" fill="#000000" stroke="#111" stroke-width="0.45"/>
<circle cx="344.6" cy="96.4" r="2.45" fill="#68b04a" stroke="#111" stroke-width="0.45"/>
<circle cx="347.35" cy="96.4" r="2.45" fill="#000000" stroke="#111" stroke-width="0.45"/>
<circle cx="350.1" cy="96.4" r="2.45" fill="#000000" stroke="#111" stroke-width="0.45"/>
<circle cx="352.85" cy="96.4" r="2.45" fill="#68b04a" stroke="#111" stroke-width="0.45"/>
<circle cx="355.6" cy="96.4" r="2.45" fill="#000000" stroke="#111" stroke-width="0.45"/>
<circle cx="358.35" cy="96.4" r="2.45" fill="#000000" stroke="#111" stroke-width="0.45"/>
<circle cx="361.1" cy="96.4" r="2.45" fill="#000000" stroke="#111" stroke-width="0.45"/>
<circle cx="363.85" cy="96.4" r="2.45" fill="#000000" stroke="#111" stroke-width="0.45"/>
<circle cx="366.6" cy="96.4" r="2.45" fill="#000000" stroke="#111" stroke-width="0.45"/>
<circle cx="369.35" cy="96.4" r="2.45" fill="#000000" stroke="#111" stroke-width="0.45"/>
<circle cx="372.1" cy="96.4" r="2.45" fill="#000000" stroke="#111" stroke-width="0.45"/>
<circle cx="374.85" cy="96.4" r="2.45" fill="#000000" stroke="#111" stroke-width="0.45"/>
<circle cx="377.6" cy="96.4" r="2.45" fill="#000000" stroke="#111" stroke-width="0.45"/>
<circle cx="380.35" cy="96.4" r="2.45" fill="#a3102e" stroke="#111" stroke-width="0.45"/>
<circle cx="383.1" cy="96.4" r="2.45" fill="#a3102e" stroke="#111" stroke-width="0.45"/>
<circle cx="385.85" cy="96.4" r="2.45" fill="#6db3e6" stroke="#111" stroke-width="0.45"/>
<circle cx="388.6" cy="96.4" r="2.45" fill="#68b04a" stroke="#111" stroke-width="0.45"/>
<circle cx="391.35" cy="96.4" r="2.45" fill="#000000" stroke="#111" stroke-width="0.45"/>
<circle cx="394.1" cy="96.4" r="2.45" fill="#000000" stroke="#111" stroke-width="0.45"/>
<circle cx="396.85" cy="96.4" r="2.45" fill="#a3102e" stroke="#111" stroke-width="0.45"/>
<circle cx="399.6" cy="96.4" r="2.45" fill="#000000" stroke="#111" stroke-width="0.45"/>
<circle cx="402.35" cy="96.4" r="2.45" fill="#000000" stroke="#111" stroke-width="0.45"/>
<circle cx="405.1" cy="96.4" r="2.45" fill="#000000" stroke="#111" stroke-width="0.45"/>
<circle cx="407.85" cy="96.4" r="2.45" fill="#000000" stroke="#111" stroke-width="0.45"/>
<circle cx="410.6" cy="96.4" r="2.45" fill="#68b04a" stroke="#111" stroke-width="0.45"/>
<circle cx="413.35" cy="96.4" r="2.45" fill="#000000" stroke="#111" stroke-width="0.45"/>
<circle cx="416.1" cy="96.4" r="2.45" fill="#a3102e" stroke="#111" stroke-width="0.45"/>
<circle cx="418.85" cy="96.4" r="2.45" fill="#000000" stroke="#111" stroke-width="0.45"/>
<circle cx="421.6" cy="96.4" r="2.45" fill="#000000" stroke="#111" stroke-width="0.45"/>
<circle cx="424.35" cy="96.4" r="2.45" fill="#4b1d5e" stroke="#111" stroke-width="0.45"/>
<circle cx="427.1" cy="96.4" r="2.45" fill="#8b86c6" stroke="#111" stroke-width="0.45"/>
<circle cx="429.85" cy="96.4" r="2.45" fill="#000000" stroke="#111" stroke-width="0.45"/>
<circle cx="432.6" cy="96.4" r="2.45" fill="#8b86c6" stroke="#111" stroke-width="0.45"/>
<circle cx="435.35" cy="96.4" r="2.45" fill="#a3102e" stroke="#111" stroke-width="0.45"/>
<circle cx="438.1" cy="96.4" r="2.45" fill="#a3102e" stroke="#111" stroke-width="0.45"/>
<circle cx="440.85" cy="96.4" r="2.45" fill="#000000" stroke="#111" stroke-width="0.45"/>
<circle cx="443.6" cy="96.4" r="2.45" fill="#000000" stroke="#111" stroke-width="0.45"/>
<circle cx="446.35" cy="96.4" r="2.45" fill="#000000" stroke="#111" stroke-width="0.45"/>
<circle cx="449.1" cy="96.4" r="2.45" fill="#a3102e" stroke="#111" stroke-width="0.45"/>
<circle cx="451.85" cy="96.4" r="2.45" fill="#000000" stroke="#111" stroke-width="0.45"/>
<circle cx="454.6" cy="96.4" r="2.45" fill="#000000" stroke="#111" stroke-width="0.45"/>
<circle cx="457.35" cy="96.4" r="2.45" fill="#000000" stroke="#111" stroke-width="0.45"/>
<circle cx="460.1" cy="96.4" r="2.45" fill="#000000" stroke="#111" stroke-width="0.45"/>
<circle cx="462.85" cy="96.4" r="2.45" fill="#000000" stroke="#111" stroke-width="0.45"/>
<circle cx="465.6" cy="96.4" r="2.45" fill="#000000" stroke="#111" stroke-width="0.45"/>
<circle cx="468.35" cy="96.4" r="2.45" fill="#000000" stroke="#111" stroke-width="0.45"/>
<circle cx="471.1" cy="96.4" r="2.45" fill="#000000" stroke="#111" stroke-width="0.45"/>
<circle cx="473.85" cy="96.4" r="2.45" fill="#000000" stroke="#111" stroke-width="0.45"/>
<circle cx="476.6" cy="96.4" r="2.45" fill="#a3102e" stroke="#111" stroke-width="0.45"/>
<circle cx="479.35" cy="96.4" r="2.45" fill="#4b1d5e" stroke="#111" stroke-width="0.45"/>
<circle cx="482.1" cy="96.4" r="2.45" fill="#4b1d5e" stroke="#111" stroke-width="0.45"/>
<circle cx="484.85" cy="96.4" r="2.45" fill="#6db3e6" stroke="#111" stroke-width="0.45"/>
<circle cx="487.6" cy="96.4" r="2.45" fill="#a3102e" stroke="#111" stroke-width="0.45"/>
<circle cx="490.35" cy="96.4" r="2.45" fill="#4b1d5e" stroke="#111" stroke-width="0.45"/>
<circle cx="493.1" cy="96.4" r="2.45" fill="#a3102e" stroke="#111" stroke-width="0.45"/>
<circle cx="495.85" cy="96.4" r="2.45" fill="#a3102e" stroke="#111" stroke-width="0.45"/>
<circle cx="498.6" cy="96.4" r="2.45" fill="#a3102e" stroke="#111" stroke-width="0.45"/>
<circle cx="501.35" cy="96.4" r="2.45" fill="#000000" stroke="#111" stroke-width="0.45"/>
<circle cx="504.1" cy="96.4" r="2.45" fill="#6db3e6" stroke="#111" stroke-width="0.45"/>
<circle cx="506.85" cy="96.4" r="2.45" fill="#000000" stroke="#111" stroke-width="0.45"/>
<circle cx="509.6" cy="96.4" r="2.45" fill="#a3102e" stroke="#111" stroke-width="0.45"/>
<circle cx="192.7" cy="90" r="2.45" fill="#000" stroke="#111" stroke-width="0.45"/>
<circle cx="268.2" cy="78.5" r="2.45" fill="#000" stroke="#111" stroke-width="0.45"/>
<circle cx="271.2" cy="91.5" r="2.45" fill="#000" stroke="#111" stroke-width="0.45"/>
<circle cx="279.7" cy="85.8" r="2.45" fill="#000" stroke="#111" stroke-width="0.45"/>
<circle cx="297.2" cy="87.2" r="2.45" fill="#000" stroke="#111" stroke-width="0.45"/>
<circle cx="303.1" cy="90.4" r="2.45" fill="#000" stroke="#111" stroke-width="0.45"/>
<circle cx="340.5" cy="89.2" r="2.45" fill="#000" stroke="#111" stroke-width="0.45"/>
<circle cx="346.5" cy="64.9" r="2.45" fill="#000" stroke="#111" stroke-width="0.45"/>
<circle cx="358" cy="89.2" r="2.45" fill="#000" stroke="#111" stroke-width="0.45"/>
<circle cx="366.6" cy="89.2" r="2.45" fill="#000" stroke="#111" stroke-width="0.45"/>
<circle cx="369.7" cy="83.1" r="2.45" fill="#000" stroke="#111" stroke-width="0.45"/>
<circle cx="392.8" cy="88.9" r="2.45" fill="#000" stroke="#111" stroke-width="0.45"/>
<circle cx="401.5" cy="53.1" r="2.45" fill="#000" stroke="#111" stroke-width="0.45"/>
<circle cx="443.7" cy="81.3" r="2.45" fill="#000" stroke="#111" stroke-width="0.45"/>
<circle cx="445.6" cy="58.8" r="2.45" fill="#000" stroke="#111" stroke-width="0.45"/>
<circle cx="451" cy="94" r="2.45" fill="#000" stroke="#111" stroke-width="0.45"/>
<circle cx="456.5" cy="93.8" r="2.45" fill="#000" stroke="#111" stroke-width="0.45"/>
<circle cx="460.5" cy="94.2" r="2.45" fill="#000" stroke="#111" stroke-width="0.45"/>
<circle cx="463.6" cy="93.8" r="2.45" fill="#000" stroke="#111" stroke-width="0.45"/>
<circle cx="375" cy="94" r="2.45" fill="#000" stroke="#111" stroke-width="0.45"/>
<circle cx="424.2" cy="94.4" r="2.45" fill="#000" stroke="#111" stroke-width="0.45"/>
<circle cx="441" cy="94.4" r="2.45" fill="#000" stroke="#111" stroke-width="0.45"/>
<text x="8.2" y="199.2" font-size="12.5" font-weight="bold">B</text>
<line x1="53.8" y1="208.6" x2="53.8" y2="397.2" stroke="#222" stroke-width="1.2"/>
<line x1="53.199999999999996" y1="397.2" x2="510.8" y2="397.2" stroke="#222" stroke-width="1.2"/>
<line x1="50.3" y1="397.2" x2="53.8" y2="397.2" stroke="#222" stroke-width="1"/>
<text x="46.6" y="400.2" font-size="8.4" text-anchor="end" fill="#222">0</text>
<line x1="50.3" y1="384.77" x2="53.8" y2="384.77" stroke="#222" stroke-width="1"/>
<text x="46.6" y="387.77" font-size="8.4" text-anchor="end" fill="#222">1</text>
<line x1="50.3" y1="372.34" x2="53.8" y2="372.34" stroke="#222" stroke-width="1"/>
<text x="46.6" y="375.34" font-size="8.4" text-anchor="end" fill="#222">2</text>
<line x1="50.3" y1="359.91" x2="53.8" y2="359.91" stroke="#222" stroke-width="1"/>
<text x="46.6" y="362.91" font-size="8.4" text-anchor="end" fill="#222">3</text>
<line x1="50.3" y1="347.48" x2="53.8" y2="347.48" stroke="#222" stroke-width="1"/>
<text x="46.6" y="350.48" font-size="8.4" text-anchor="end" fill="#222">4</text>
<line x1="50.3" y1="335.05" x2="53.8" y2="335.05" stroke="#222" stroke-width="1"/>
<text x="46.6" y="338.05" font-size="8.4" text-anchor="end" fill="#222">5</text>
<line x1="50.3" y1="322.62" x2="53.8" y2="322.62" stroke="#222" stroke-width="1"/>
<text x="46.6" y="325.62" font-size="8.4" text-anchor="end" fill="#222">6</text>
<line x1="50.3" y1="310.19" x2="53.8" y2="310.19" stroke="#222" stroke-width="1"/>
<text x="46.6" y="313.19" font-size="8.4" text-anchor="end" fill="#222">7</text>
<line x1="50.3" y1="297.76" x2="53.8" y2="297.76" stroke="#222" stroke-width="1"/>
<text x="46.6" y="300.76" font-size="8.4" text-anchor="end" fill="#222">8</text>
<line x1="50.3" y1="285.33" x2="53.8" y2="285.33" stroke="#222" stroke-width="1"/>
<text x="46.6" y="288.33" font-size="8.4" text-anchor="end" fill="#222">9</text>
<line x1="50.3" y1="272.9" x2="53.8" y2="272.9" stroke="#222" stroke-width="1"/>
<text x="46.6" y="275.9" font-size="8.4" text-anchor="end" fill="#222">10</text>
<line x1="50.3" y1="260.47" x2="53.8" y2="260.47" stroke="#222" stroke-width="1"/>
<text x="46.6" y="263.47" font-size="8.4" text-anchor="end" fill="#222">11</text>
<line x1="50.3" y1="248.04" x2="53.8" y2="248.04" stroke="#222" stroke-width="1"/>
<text x="46.6" y="251.04" font-size="8.4" text-anchor="end" fill="#222">12</text>
<line x1="50.3" y1="235.61" x2="53.8" y2="235.61" stroke="#222" stroke-width="1"/>
<text x="46.6" y="238.61" font-size="8.4" text-anchor="end" fill="#222">13</text>
<line x1="50.3" y1="223.18" x2="53.8" y2="223.18" stroke="#222" stroke-width="1"/>
<text x="46.6" y="226.18" font-size="8.4" text-anchor="end" fill="#222">14</text>
<line x1="50.3" y1="210.75" x2="53.8" y2="210.75" stroke="#222" stroke-width="1"/>
<text x="46.6" y="213.75" font-size="8.4" text-anchor="end" fill="#222">15</text>
<text transform="translate(29.0,302.2) rotate(-90)" font-size="9.4" text-anchor="middle" fill="#111" class="t" textLength="109" lengthAdjust="spacingAndGlyphs">Frequency (% of tested patients)</text>
<rect x="59" y="216.47" width="9.9" height="180.73" fill="#68a8de"/>
<line x1="63.95" y1="397.2" x2="63.95" y2="400.6" stroke="#222" stroke-width="1"/>
<text transform="translate(66.35,409.0) rotate(-45)" font-size="8.9" text-anchor="end" font-style="italic" fill="#222">TET2</text>
<rect x="74.52" y="265.94" width="9.9" height="131.26" fill="#68a8de"/>
<line x1="79.47" y1="397.2" x2="79.47" y2="400.6" stroke="#222" stroke-width="1"/>
<text transform="translate(81.87,409.0) rotate(-45)" font-size="8.9" text-anchor="end" font-style="italic" fill="#222">DNMT3A</text>
<rect x="90.04" y="309.57" width="9.9" height="87.63" fill="#68a8de"/>
<line x1="94.99" y1="397.2" x2="94.99" y2="400.6" stroke="#222" stroke-width="1"/>
<text transform="translate(97.39,409.0) rotate(-45)" font-size="8.9" text-anchor="end" font-style="italic" fill="#222">SF3B1</text>
<rect x="105.56" y="311.18" width="9.9" height="86.02" fill="#68a8de"/>
<line x1="110.51" y1="397.2" x2="110.51" y2="400.6" stroke="#222" stroke-width="1"/>
<text transform="translate(112.91,409.0) rotate(-45)" font-size="8.9" text-anchor="end" font-style="italic" fill="#222">ASXL1</text>
<rect x="121.08" y="322.37" width="9.9" height="74.83" fill="#68a8de"/>
<line x1="126.03" y1="397.2" x2="126.03" y2="400.6" stroke="#222" stroke-width="1"/>
<text transform="translate(128.43,409.0) rotate(-45)" font-size="8.9" text-anchor="end" font-style="italic" fill="#222">U2AF1</text>
<rect x="136.6" y="350.96" width="9.9" height="46.24" fill="#68a8de"/>
<line x1="141.55" y1="397.2" x2="141.55" y2="400.6" stroke="#222" stroke-width="1"/>
<text transform="translate(143.95,409.0) rotate(-45)" font-size="8.9" text-anchor="end" font-style="italic" fill="#222">RUNX1</text>
<rect x="152.12" y="363.27" width="9.9" height="33.93" fill="#68a8de"/>
<line x1="157.07" y1="397.2" x2="157.07" y2="400.6" stroke="#222" stroke-width="1"/>
<text transform="translate(159.47,409.0) rotate(-45)" font-size="8.9" text-anchor="end" font-style="italic" fill="#222">MLL</text>
<rect x="167.64" y="373.58" width="9.9" height="23.62" fill="#68a8de"/>
<line x1="172.59" y1="397.2" x2="172.59" y2="400.6" stroke="#222" stroke-width="1"/>
<text transform="translate(174.99,409.0) rotate(-45)" font-size="8.9" text-anchor="end" font-style="italic" fill="#222">IDH2</text>
<rect x="183.16" y="373.21" width="9.9" height="23.99" fill="#68a8de"/>
<line x1="188.11" y1="397.2" x2="188.11" y2="400.6" stroke="#222" stroke-width="1"/>
<text transform="translate(190.51,409.0) rotate(-45)" font-size="8.9" text-anchor="end" font-style="italic" fill="#222">SMC3</text>
<rect x="198.68" y="373.21" width="9.9" height="23.99" fill="#68a8de"/>
<line x1="203.63" y1="397.2" x2="203.63" y2="400.6" stroke="#222" stroke-width="1"/>
<text transform="translate(206.03,409.0) rotate(-45)" font-size="8.9" text-anchor="end" font-style="italic" fill="#222">SRSF2</text>
<rect x="214.2" y="378.43" width="9.9" height="18.77" fill="#68a8de"/>
<line x1="219.15" y1="397.2" x2="219.15" y2="400.6" stroke="#222" stroke-width="1"/>
<text transform="translate(221.55,409.0) rotate(-45)" font-size="8.9" text-anchor="end" font-style="italic" fill="#222">JAK2</text>
<rect x="229.72" y="380.92" width="9.9" height="16.28" fill="#68a8de"/>
<line x1="234.67" y1="397.2" x2="234.67" y2="400.6" stroke="#222" stroke-width="1"/>
<text transform="translate(237.07,409.0) rotate(-45)" font-size="8.9" text-anchor="end" font-style="italic" fill="#222">IKF2</text>
<rect x="245.24" y="383.53" width="9.9" height="13.67" fill="#68a8de"/>
<line x1="250.19" y1="397.2" x2="250.19" y2="400.6" stroke="#222" stroke-width="1"/>
<text transform="translate(252.59,409.0) rotate(-45)" font-size="8.9" text-anchor="end" font-style="italic" fill="#222">KIT</text>
<rect x="260.76" y="383.53" width="9.9" height="13.67" fill="#68a8de"/>
<line x1="265.71" y1="397.2" x2="265.71" y2="400.6" stroke="#222" stroke-width="1"/>
<text transform="translate(268.11,409.0) rotate(-45)" font-size="8.9" text-anchor="end" font-style="italic" fill="#222">KRAS</text>
<rect x="276.28" y="383.53" width="9.9" height="13.67" fill="#68a8de"/>
<line x1="281.23" y1="397.2" x2="281.23" y2="400.6" stroke="#222" stroke-width="1"/>
<text transform="translate(283.63,409.0) rotate(-45)" font-size="8.9" text-anchor="end" font-style="italic" fill="#222">NOTCH1</text>
<rect x="291.8" y="383.78" width="9.9" height="13.42" fill="#68a8de"/>
<line x1="296.75" y1="397.2" x2="296.75" y2="400.6" stroke="#222" stroke-width="1"/>
<text transform="translate(299.15,409.0) rotate(-45)" font-size="8.9" text-anchor="end" font-style="italic" fill="#222">NRAS</text>
<rect x="307.32" y="386.14" width="9.9" height="11.06" fill="#68a8de"/>
<line x1="312.27" y1="397.2" x2="312.27" y2="400.6" stroke="#222" stroke-width="1"/>
<text transform="translate(314.67,409.0) rotate(-45)" font-size="8.9" text-anchor="end" font-style="italic" fill="#222">MAP2K1</text>
<rect x="322.84" y="386.14" width="9.9" height="11.06" fill="#68a8de"/>
<line x1="327.79" y1="397.2" x2="327.79" y2="400.6" stroke="#222" stroke-width="1"/>
<text transform="translate(330.19,409.0) rotate(-45)" font-size="8.9" text-anchor="end" font-style="italic" fill="#222">NF1</text>
<rect x="338.36" y="386.14" width="9.9" height="11.06" fill="#68a8de"/>
<line x1="343.31" y1="397.2" x2="343.31" y2="400.6" stroke="#222" stroke-width="1"/>
<text transform="translate(345.71,409.0) rotate(-45)" font-size="8.9" text-anchor="end" font-style="italic" fill="#222">RAD21</text>
<rect x="353.88" y="386.14" width="9.9" height="11.06" fill="#68a8de"/>
<line x1="358.83" y1="397.2" x2="358.83" y2="400.6" stroke="#222" stroke-width="1"/>
<text transform="translate(361.23,409.0) rotate(-45)" font-size="8.9" text-anchor="end" font-style="italic" fill="#222">SETBP1</text>
<rect x="369.4" y="386.14" width="9.9" height="11.06" fill="#68a8de"/>
<line x1="374.35" y1="397.2" x2="374.35" y2="400.6" stroke="#222" stroke-width="1"/>
<text transform="translate(376.75,409.0) rotate(-45)" font-size="8.9" text-anchor="end" font-style="italic" fill="#222">STAT5A</text>
<rect x="384.92" y="386.14" width="9.9" height="11.06" fill="#68a8de"/>
<line x1="389.87" y1="397.2" x2="389.87" y2="400.6" stroke="#222" stroke-width="1"/>
<text transform="translate(392.27,409.0) rotate(-45)" font-size="8.9" text-anchor="end" font-style="italic" fill="#222">STAT5B</text>
<rect x="400.44" y="388.25" width="9.9" height="8.95" fill="#68a8de"/>
<line x1="405.39" y1="397.2" x2="405.39" y2="400.6" stroke="#222" stroke-width="1"/>
<text transform="translate(407.79,409.0) rotate(-45)" font-size="8.9" text-anchor="end" font-style="italic" fill="#222">PTPN11</text>
<rect x="415.96" y="388.25" width="9.9" height="8.95" fill="#68a8de"/>
<line x1="420.91" y1="397.2" x2="420.91" y2="400.6" stroke="#222" stroke-width="1"/>
<text transform="translate(423.31,409.0) rotate(-45)" font-size="8.9" text-anchor="end" font-style="italic" fill="#222">EZH2</text>
<rect x="431.48" y="393.47" width="9.9" height="3.73" fill="#68a8de"/>
<line x1="436.43" y1="397.2" x2="436.43" y2="400.6" stroke="#222" stroke-width="1"/>
<text transform="translate(438.83,409.0) rotate(-45)" font-size="8.9" text-anchor="end" font-style="italic" fill="#222">BRAF</text>
<rect x="447" y="392.1" width="9.9" height="5.1" fill="#68a8de"/>
<line x1="451.95" y1="397.2" x2="451.95" y2="400.6" stroke="#222" stroke-width="1"/>
<text transform="translate(454.35,409.0) rotate(-45)" font-size="8.9" text-anchor="end" font-style="italic" fill="#222">CEBPA</text>
<rect x="462.52" y="393.47" width="9.9" height="3.73" fill="#68a8de"/>
<line x1="467.47" y1="397.2" x2="467.47" y2="400.6" stroke="#222" stroke-width="1"/>
<text transform="translate(469.87,409.0) rotate(-45)" font-size="8.9" text-anchor="end" font-style="italic" fill="#222">FLT3</text>
<rect x="478.04" y="393.47" width="9.9" height="3.73" fill="#68a8de"/>
<line x1="482.99" y1="397.2" x2="482.99" y2="400.6" stroke="#222" stroke-width="1"/>
<text transform="translate(485.39,409.0) rotate(-45)" font-size="8.9" text-anchor="end" font-style="italic" fill="#222">MPL</text>
<rect x="493.56" y="392.1" width="9.9" height="5.1" fill="#68a8de"/>
<line x1="498.51" y1="397.2" x2="498.51" y2="400.6" stroke="#222" stroke-width="1"/>
<text transform="translate(500.91,409.0) rotate(-45)" font-size="8.9" text-anchor="end" font-style="italic" fill="#222">WT1</text>
<text x="259.6" y="447.9" font-size="10.4" fill="#111" class="t" textLength="45.4" lengthAdjust="spacingAndGlyphs">Mutated gene</text>
<line x1="191.4" y1="211" x2="191.4" y2="333.8" stroke="#111" stroke-width="1.1"/>
<line x1="190.9" y1="333.8" x2="477.3" y2="333.8" stroke="#111" stroke-width="1.1"/>
<line x1="188" y1="333.8" x2="191.4" y2="333.8" stroke="#111" stroke-width="0.9"/>
<text x="185" y="336.5" font-size="7.6" text-anchor="end" fill="#222">0</text>
<line x1="188" y1="321.8" x2="191.4" y2="321.8" stroke="#111" stroke-width="0.9"/>
<text x="185" y="324.5" font-size="7.6" text-anchor="end" fill="#222">10</text>
<line x1="188" y1="309.8" x2="191.4" y2="309.8" stroke="#111" stroke-width="0.9"/>
<text x="185" y="312.5" font-size="7.6" text-anchor="end" fill="#222">20</text>
<line x1="188" y1="297.8" x2="191.4" y2="297.8" stroke="#111" stroke-width="0.9"/>
<text x="185" y="300.5" font-size="7.6" text-anchor="end" fill="#222">30</text>
<line x1="188" y1="285.8" x2="191.4" y2="285.8" stroke="#111" stroke-width="0.9"/>
<text x="185" y="288.5" font-size="7.6" text-anchor="end" fill="#222">40</text>
<line x1="188" y1="273.8" x2="191.4" y2="273.8" stroke="#111" stroke-width="0.9"/>
<text x="185" y="276.5" font-size="7.6" text-anchor="end" fill="#222">50</text>
<line x1="188" y1="261.8" x2="191.4" y2="261.8" stroke="#111" stroke-width="0.9"/>
<text x="185" y="264.5" font-size="7.6" text-anchor="end" fill="#222">60</text>
<line x1="188" y1="249.8" x2="191.4" y2="249.8" stroke="#111" stroke-width="0.9"/>
<text x="185" y="252.5" font-size="7.6" text-anchor="end" fill="#222">70</text>
<line x1="188" y1="237.8" x2="191.4" y2="237.8" stroke="#111" stroke-width="0.9"/>
<text x="185" y="240.5" font-size="7.6" text-anchor="end" fill="#222">80</text>
<line x1="188" y1="225.8" x2="191.4" y2="225.8" stroke="#111" stroke-width="0.9"/>
<text x="185" y="228.5" font-size="7.6" text-anchor="end" fill="#222">90</text>
<line x1="188" y1="213.8" x2="191.4" y2="213.8" stroke="#111" stroke-width="0.9"/>
<text x="185" y="216.5" font-size="7.6" text-anchor="end" fill="#222">100</text>
<text transform="translate(165.5,270.5) rotate(-90)" font-size="8.8" text-anchor="middle" fill="#111" class="t" textLength="67" lengthAdjust="spacingAndGlyphs">Variant allele frequency</text>
<line x1="201.2" y1="255.56" x2="201.2" y2="285.08" stroke="#d05070" stroke-width="1.1"/>
<line x1="198.8" y1="255.56" x2="203.6" y2="255.56" stroke="#d05070" stroke-width="1.1"/>
<line x1="198.8" y1="285.08" x2="203.6" y2="285.08" stroke="#d05070" stroke-width="1.1"/>
<circle cx="201.2" cy="272" r="2.5" fill="#a8002c"/>
<line x1="201.2" y1="333.8" x2="201.2" y2="336.6" stroke="#111" stroke-width="0.9"/>
<text transform="translate(204,344.4) rotate(-45)" font-size="7.2" text-anchor="end" font-style="italic" fill="#222">MLL</text>
<line x1="220.2" y1="270.56" x2="220.2" y2="275" stroke="#1f4a8a" stroke-width="1.1"/>
<line x1="217.8" y1="270.56" x2="222.6" y2="270.56" stroke="#1f4a8a" stroke-width="1.1"/>
<line x1="217.8" y1="275" x2="222.6" y2="275" stroke="#1f4a8a" stroke-width="1.1"/>
<circle cx="220.2" cy="273.08" r="2.5" fill="#1f4a8a"/>
<line x1="220.2" y1="333.8" x2="220.2" y2="336.6" stroke="#111" stroke-width="0.9"/>
<text transform="translate(223,344.4) rotate(-45)" font-size="7.2" text-anchor="end" font-style="italic" fill="#222">NOTCH1</text>
<line x1="239.2" y1="272.24" x2="239.2" y2="327.92" stroke="#90c878" stroke-width="1.1"/>
<line x1="236.8" y1="272.24" x2="241.6" y2="272.24" stroke="#90c878" stroke-width="1.1"/>
<line x1="236.8" y1="327.92" x2="241.6" y2="327.92" stroke="#90c878" stroke-width="1.1"/>
<circle cx="239.2" cy="273.8" r="2.5" fill="#5aa83a"/>
<line x1="239.2" y1="333.8" x2="239.2" y2="336.6" stroke="#111" stroke-width="0.9"/>
<text transform="translate(242,344.4) rotate(-45)" font-size="7.2" text-anchor="end" font-style="italic" fill="#222">IKZF2</text>
<line x1="258.2" y1="274.52" x2="258.2" y2="278.6" stroke="#4a1a6a" stroke-width="1.1"/>
<line x1="255.8" y1="274.52" x2="260.6" y2="274.52" stroke="#4a1a6a" stroke-width="1.1"/>
<line x1="255.8" y1="278.6" x2="260.6" y2="278.6" stroke="#4a1a6a" stroke-width="1.1"/>
<circle cx="258.2" cy="276.44" r="2.5" fill="#4a1a6a"/>
<line x1="258.2" y1="333.8" x2="258.2" y2="336.6" stroke="#111" stroke-width="0.9"/>
<text transform="translate(261,344.4) rotate(-45)" font-size="7.2" text-anchor="end" font-style="italic" fill="#222">KIT</text>
<line x1="277.2" y1="277.4" x2="277.2" y2="300.2" stroke="#eeb050" stroke-width="1.1"/>
<line x1="274.8" y1="277.4" x2="279.6" y2="277.4" stroke="#eeb050" stroke-width="1.1"/>
<line x1="274.8" y1="300.2" x2="279.6" y2="300.2" stroke="#eeb050" stroke-width="1.1"/>
<circle cx="277.2" cy="285.44" r="2.5" fill="#e8a030"/>
<line x1="277.2" y1="333.8" x2="277.2" y2="336.6" stroke="#111" stroke-width="0.9"/>
<text transform="translate(280,344.4) rotate(-45)" font-size="7.2" text-anchor="end" font-style="italic" fill="#222">SF3B1</text>
<line x1="296.2" y1="232.16" x2="296.2" y2="288.8" stroke="#3e7a5a" stroke-width="1.1"/>
<line x1="293.8" y1="232.16" x2="298.6" y2="232.16" stroke="#3e7a5a" stroke-width="1.1"/>
<line x1="293.8" y1="288.8" x2="298.6" y2="288.8" stroke="#3e7a5a" stroke-width="1.1"/>
<circle cx="296.2" cy="287" r="2.5" fill="#2e6a4a"/>
<line x1="296.2" y1="333.8" x2="296.2" y2="336.6" stroke="#111" stroke-width="0.9"/>
<text transform="translate(299,344.4) rotate(-45)" font-size="7.2" text-anchor="end" font-style="italic" fill="#222">JAK2</text>
<line x1="315.2" y1="275" x2="315.2" y2="327.08" stroke="#a8a2d8" stroke-width="1.1"/>
<line x1="312.8" y1="275" x2="317.6" y2="275" stroke="#a8a2d8" stroke-width="1.1"/>
<line x1="312.8" y1="327.08" x2="317.6" y2="327.08" stroke="#a8a2d8" stroke-width="1.1"/>
<circle cx="315.2" cy="287.72" r="2.5" fill="#a09ad4"/>
<line x1="315.2" y1="333.8" x2="315.2" y2="336.6" stroke="#111" stroke-width="0.9"/>
<text transform="translate(318,344.4) rotate(-45)" font-size="7.2" text-anchor="end" font-style="italic" fill="#222">ASXL1</text>
<line x1="334.2" y1="267.56" x2="334.2" y2="322.04" stroke="#4e5a6e" stroke-width="1.1"/>
<line x1="331.8" y1="267.56" x2="336.6" y2="267.56" stroke="#4e5a6e" stroke-width="1.1"/>
<line x1="331.8" y1="322.04" x2="336.6" y2="322.04" stroke="#4e5a6e" stroke-width="1.1"/>
<circle cx="334.2" cy="294.56" r="2.5" fill="#3e4a5e"/>
<line x1="334.2" y1="333.8" x2="334.2" y2="336.6" stroke="#111" stroke-width="0.9"/>
<text transform="translate(337,344.4) rotate(-45)" font-size="7.2" text-anchor="end" font-style="italic" fill="#222">TP53</text>
<line x1="353.2" y1="290.6" x2="353.2" y2="310.28" stroke="#6ab4e8" stroke-width="1.1"/>
<line x1="350.8" y1="290.6" x2="355.6" y2="290.6" stroke="#6ab4e8" stroke-width="1.1"/>
<line x1="350.8" y1="310.28" x2="355.6" y2="310.28" stroke="#6ab4e8" stroke-width="1.1"/>
<circle cx="353.2" cy="300.44" r="2.5" fill="#5aa8e0"/>
<line x1="353.2" y1="333.8" x2="353.2" y2="336.6" stroke="#111" stroke-width="0.9"/>
<text transform="translate(356,344.4) rotate(-45)" font-size="7.2" text-anchor="end" font-style="italic" fill="#222">U2AF1</text>
<line x1="372.2" y1="289.88" x2="372.2" y2="322.4" stroke="#d4148a" stroke-width="1.1"/>
<line x1="369.8" y1="289.88" x2="374.6" y2="289.88" stroke="#d4148a" stroke-width="1.1"/>
<line x1="369.8" y1="322.4" x2="374.6" y2="322.4" stroke="#d4148a" stroke-width="1.1"/>
<circle cx="372.2" cy="302.24" r="2.5" fill="#d4148a"/>
<line x1="372.2" y1="333.8" x2="372.2" y2="336.6" stroke="#111" stroke-width="0.9"/>
<text transform="translate(375,344.4) rotate(-45)" font-size="7.2" text-anchor="end" font-style="italic" fill="#222">TET2</text>
<line x1="391.2" y1="291.8" x2="391.2" y2="321.32" stroke="#a8682a" stroke-width="1.1"/>
<line x1="388.8" y1="291.8" x2="393.6" y2="291.8" stroke="#a8682a" stroke-width="1.1"/>
<line x1="388.8" y1="321.32" x2="393.6" y2="321.32" stroke="#a8682a" stroke-width="1.1"/>
<circle cx="391.2" cy="305.96" r="2.5" fill="#a0581a"/>
<line x1="391.2" y1="333.8" x2="391.2" y2="336.6" stroke="#111" stroke-width="0.9"/>
<text transform="translate(394,344.4) rotate(-45)" font-size="7.2" text-anchor="end" font-style="italic" fill="#222">DNMT3A</text>
<line x1="410.2" y1="297.56" x2="410.2" y2="329.96" stroke="#b4c48c" stroke-width="1.1"/>
<line x1="407.8" y1="297.56" x2="412.6" y2="297.56" stroke="#b4c48c" stroke-width="1.1"/>
<line x1="407.8" y1="329.96" x2="412.6" y2="329.96" stroke="#b4c48c" stroke-width="1.1"/>
<circle cx="410.2" cy="320.6" r="2.5" fill="#b4c48c"/>
<line x1="410.2" y1="333.8" x2="410.2" y2="336.6" stroke="#111" stroke-width="0.9"/>
<text transform="translate(413,344.4) rotate(-45)" font-size="7.2" text-anchor="end" font-style="italic" fill="#222">IDH2</text>
<line x1="429.2" y1="295.04" x2="429.2" y2="333.44" stroke="#6a4422" stroke-width="1.1"/>
<line x1="426.8" y1="295.04" x2="431.6" y2="295.04" stroke="#6a4422" stroke-width="1.1"/>
<line x1="426.8" y1="333.44" x2="431.6" y2="333.44" stroke="#6a4422" stroke-width="1.1"/>
<circle cx="429.2" cy="326.36" r="2.5" fill="#5a3412"/>
<line x1="429.2" y1="333.8" x2="429.2" y2="336.6" stroke="#111" stroke-width="0.9"/>
<text transform="translate(432,344.4) rotate(-45)" font-size="7.2" text-anchor="end" font-style="italic" fill="#222">RUNX1</text>
<line x1="448.2" y1="290.6" x2="448.2" y2="331.52" stroke="#c8c8c8" stroke-width="1.1"/>
<line x1="445.8" y1="290.6" x2="450.6" y2="290.6" stroke="#c8c8c8" stroke-width="1.1"/>
<line x1="445.8" y1="331.52" x2="450.6" y2="331.52" stroke="#c8c8c8" stroke-width="1.1"/>
<circle cx="448.2" cy="326.84" r="2.5" fill="#c8c8c8"/>
<line x1="448.2" y1="333.8" x2="448.2" y2="336.6" stroke="#111" stroke-width="0.9"/>
<text transform="translate(451,344.4) rotate(-45)" font-size="7.2" text-anchor="end" font-style="italic" fill="#222">NRAS</text>
<line x1="467.2" y1="319.88" x2="467.2" y2="331.52" stroke="#e8b810" stroke-width="1.1"/>
<line x1="464.8" y1="319.88" x2="469.6" y2="319.88" stroke="#e8b810" stroke-width="1.1"/>
<line x1="464.8" y1="331.52" x2="469.6" y2="331.52" stroke="#e8b810" stroke-width="1.1"/>
<circle cx="467.2" cy="329" r="2.5" fill="#e8b810"/>
<line x1="467.2" y1="333.8" x2="467.2" y2="336.6" stroke="#111" stroke-width="0.9"/>
<text transform="translate(470,344.4) rotate(-45)" font-size="7.2" text-anchor="end" font-style="italic" fill="#222">KRAS</text>
<text x="8.1" y="479.2" font-size="12.6" font-weight="bold">C</text>
<defs><clipPath id="cT"><circle cx="266.2" cy="552.8" r="67.2"/></clipPath><clipPath id="cL"><circle cx="217.5" cy="636.9" r="67.2"/></clipPath></defs>
<circle cx="217.5" cy="636.9" r="67.2" fill="#95a698"/>
<circle cx="314.9" cy="637.2" r="67.2" fill="#5b7d69"/>
<circle cx="266.2" cy="552.8" r="67.2" fill="#66749e"/>
<circle cx="217.5" cy="636.9" r="67.2" fill="#3e4c5f" clip-path="url(#cT)"/>
<circle cx="314.9" cy="637.2" r="67.2" fill="#263a43" clip-path="url(#cT)"/>
<circle cx="314.9" cy="637.2" r="67.2" fill="#355441" clip-path="url(#cL)"/>
<g clip-path="url(#cT)"><circle cx="314.9" cy="637.2" r="67.2" fill="#17232a" clip-path="url(#cL)"/></g>
<text x="266.3" y="516.9" font-size="10.9" text-anchor="middle" fill="#fff" class="w">42</text>
<text x="228.7" y="540" font-size="10.3" font-weight="bold" fill="#fff" class="w" textLength="75.3" lengthAdjust="spacingAndGlyphs"><tspan font-style="italic">TP53</tspan> mutation</text>
<text x="266.3" y="551.9" font-size="10.9" text-anchor="middle" fill="#f0f0f4" class="w">(n=261)</text>
<text x="235" y="594.6" font-size="10.9" text-anchor="middle" fill="#fff" class="w">136</text>
<text x="293.6" y="594.6" font-size="10.9" text-anchor="middle" fill="#fff" class="w">2</text>
<text x="266.2" y="611.7" font-size="10.9" text-anchor="middle" fill="#fff" class="w">88</text>
<text x="177.8" y="627.7" font-size="10.3" font-weight="bold" fill="#fff" class="w" textLength="45" lengthAdjust="spacingAndGlyphs">Complex</text>
<text x="175.5" y="640.7" font-size="10.3" font-weight="bold" fill="#fff" class="w" textLength="50.2" lengthAdjust="spacingAndGlyphs">karyotype</text>
<text x="200.8" y="653.2" font-size="10.9" text-anchor="middle" fill="#f0f0f0" class="w">(n=284)</text>
<text x="266.1" y="640.2" font-size="10.9" text-anchor="middle" fill="#fff" class="w">11</text>
<text x="296.3" y="634.4" font-size="10.3" font-weight="bold" fill="#fff" class="w" textLength="71.6" lengthAdjust="spacingAndGlyphs"><tspan font-style="italic">TP53</tspan> deletion</text>
<text x="332.2" y="646" font-size="10.9" text-anchor="middle" fill="#f0f0f0" class="w">(n=105)</text>
<text x="207" y="687.5" font-size="10.9" text-anchor="middle" fill="#fff" class="w">49</text>
<text x="325.4" y="687.7" font-size="10.9" text-anchor="middle" fill="#fff" class="w">5</text>
<rect x="0.65" y="0.65" width="518.5" height="711.5" fill="none" stroke="#000" stroke-width="1.3"/>
</svg>
</body></html>
